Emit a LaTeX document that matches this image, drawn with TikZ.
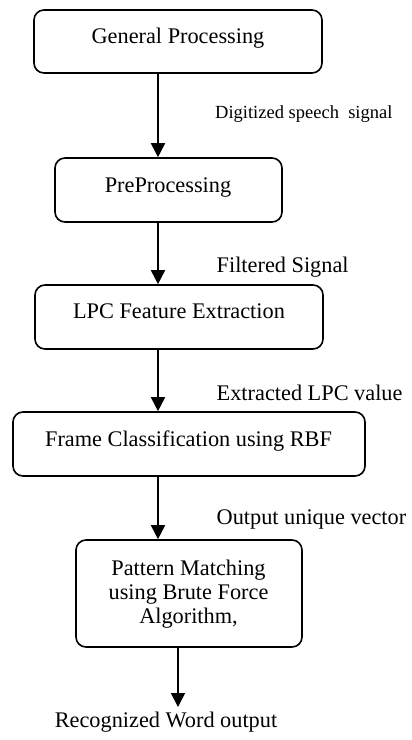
\documentclass[tikz,border=0pt]{standalone}
\usepackage{fontspec}
\setmainfont{Liberation Serif}
\usetikzlibrary{arrows.meta}
\begin{document}
\begin{tikzpicture}[x=1pt,y=-1pt,
  box/.style={draw, line width=1.6pt, rounded corners=10pt, inner sep=0pt},
  boxtext/.style={anchor=base, font=\fontsize{22.3}{24}\selectfont, inner sep=0pt, align=center},
  lbl/.style={anchor=base west, font=\fontsize{22.3}{24}\selectfont, inner sep=0pt},
  smalllbl/.style={anchor=base west, font=\fontsize{18.5}{20}\selectfont, inner sep=0pt},
  flow/.style={line width=1.6pt, -{Triangle[length=14pt,width=14pt]}}]
\useasboundingbox (0,0) rectangle (412,740);

% boxes
\node[box, minimum width=288pt, minimum height=63pt] (b1) at (178,41.5) {};
\node[box, minimum width=227pt, minimum height=64pt] (b2) at (168.5,190) {};
\node[box, minimum width=288pt, minimum height=64pt] (b3) at (179,317) {};
\node[box, minimum width=352pt, minimum height=64pt] (b4) at (189,444) {};
\node[box, minimum width=226pt, minimum height=107pt] (b5) at (189,593.5) {};

% box texts
\node[boxtext] (t1) at (178,43.5) {General Processing};
\node[boxtext] (t2) at (168,192) {PreProcessing};
\node[boxtext] (t3) at (179,318) {LPC Feature Extraction};
\node[boxtext] (t4) at (188.5,446) {Frame Classification using RBF};
\node[boxtext] (t5) at (188.5,623) {Pattern Matching\\using Brute Force\\Algorithm,};

% connectors
\draw[flow] (158,0 |- b1.south) -- (158,0 |- b2.north);
\draw[flow] (158,0 |- b2.south) -- (158,0 |- b3.north);
\draw[flow] (158,0 |- b3.south) -- (158,0 |- b4.north);
\draw[flow] (158,0 |- b4.south) -- (158,0 |- b5.north);
\coordinate (outend) at (178,707);
\draw[flow] (178,0 |- b5.south) -- (outend);

% labels
\node[smalllbl] (l1) at (215,118) {Digitized speech~ signal};
\node[lbl] (l2) at (216.5,272.5) {Filtered Signal};
\node[lbl] (l3) at (216.5,400) {Extracted LPC value};
\node[lbl] (l4) at (216.5,524) {Output unique vector};
\node[boxtext] (out) at (166,727.5) {Recognized Word output};
\end{tikzpicture}
\end{document}
